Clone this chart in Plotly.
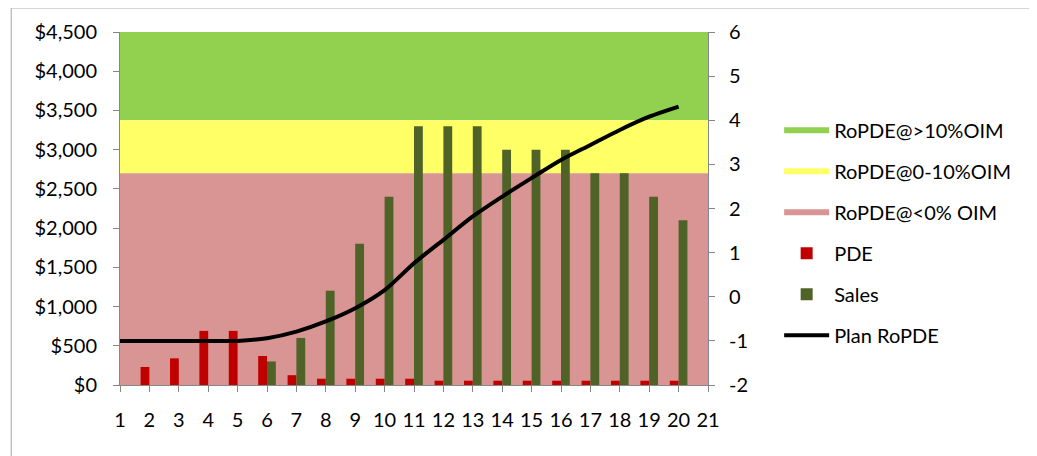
import plotly.graph_objects as go

periods = list(range(1, 21))
pde = [100, 230, 340, 690, 690, 370, 125, 80, 80, 80, 80, 55, 55, 55, 55, 55, 55, 55, 55, 55]
sales = [0, 0, 0, 0, 0, 300, 600, 1200, 1800, 2400, 3300, 3300, 3300, 3000, 3000, 3000, 2700, 2700, 2400, 2100]
plan_ropde = [-1, -1, -1, -1, -1, -0.94, -0.79, -0.56, -0.26, 0.15, 0.76, 1.29, 1.82, 2.27,
              2.69, 3.10, 3.44, 3.78, 4.08, 4.31]

band_names = ["RoPDE@>10%OIM", "RoPDE@0-10%OIM", "RoPDE@<0% OIM"]
band_low = [3375, 2700, 0]
band_high = [4500, 3375, 2700]
band_colors = ["#92D050", "#FFFF66", "#D99594"]
x_span = [1, 21]
x_ticks = list(range(1, 22))
right_ticks = [-2, -1, 0, 1, 2, 3, 4, 5, 6]
right_tick_labels = ["-2", "-1", "0", "1", "2", "3", "4", "5", "6"]

FONT = "Lato"
FS = 20
AXIS_GRAY = "#868686"

fig = go.Figure()

for name, lo, hi, col in zip(band_names, band_low, band_high, band_colors):
    fig.add_trace(go.Scatter(
        x=[x_span[0], x_span[1], x_span[1], x_span[0], x_span[0]],
        y=[lo, lo, hi, hi, lo],
        fill="toself", fillcolor=col, mode="none", name=name,
        legendgroup=name, yaxis="y", hoverinfo="skip"))

fig.add_trace(go.Bar(x=periods, y=pde, name="PDE", marker_color="#C00000",
                     marker_line_width=0, yaxis="y2", legendgroup="PDE"))
fig.add_trace(go.Bar(x=periods, y=sales, name="Sales", marker_color="#4F6228",
                     marker_line_width=0, yaxis="y2", legendgroup="Sales"))
fig.add_trace(go.Scatter(x=periods, y=plan_ropde, name="Plan RoPDE", mode="lines",
                         line=dict(color="black", width=4, shape="spline", smoothing=0.8),
                         yaxis="y3", legendgroup="Plan"))

fig.update_layout(
    width=1037, height=456,
    margin=dict(l=112, r=337, t=24, b=79),
    paper_bgcolor="white", plot_bgcolor="white",
    font=dict(family=FONT, size=FS, color="black"),
    barmode="group", bargap=0.4, bargroupgap=0,
    xaxis=dict(range=x_span, tickvals=x_ticks, showgrid=False, zeroline=False,
               showline=True, linecolor=AXIS_GRAY, linewidth=1,
               ticks="outside", ticklen=6, tickcolor=AXIS_GRAY, ticklabelstandoff=11),
    yaxis=dict(range=[0, 4500], dtick=500, tickprefix="$", tickformat=",d",
               showgrid=False, zeroline=False, showline=True, linecolor=AXIS_GRAY,
               ticks="outside", ticklen=6, tickcolor=AXIS_GRAY, ticklabelstandoff=12),
    yaxis2=dict(range=[0, 4500], overlaying="y", visible=False),
    yaxis3=dict(range=[-2, 6], tickvals=right_ticks, ticktext=right_tick_labels,
                overlaying="y", side="right",
                showgrid=False, zeroline=False, showline=True, linecolor=AXIS_GRAY,
                ticks="outside", ticklen=6, tickcolor=AXIS_GRAY, ticklabelstandoff=10),
    legend=dict(x=1.121, xanchor="left", y=0.777, yanchor="top",
                traceorder="grouped", tracegroupgap=12, itemwidth=45,
                font=dict(family=FONT, size=FS), bgcolor="rgba(0,0,0,0)"),
    shapes=[dict(type="rect", xref="paper", yref="paper",
                 x0=-0.185, x1=1.62, y0=-0.35, y1=1.068,
                 line=dict(color="#A6A6A6", width=1), fillcolor="rgba(0,0,0,0)",
                 layer="below")],
)

fig.write_html("out.html")
